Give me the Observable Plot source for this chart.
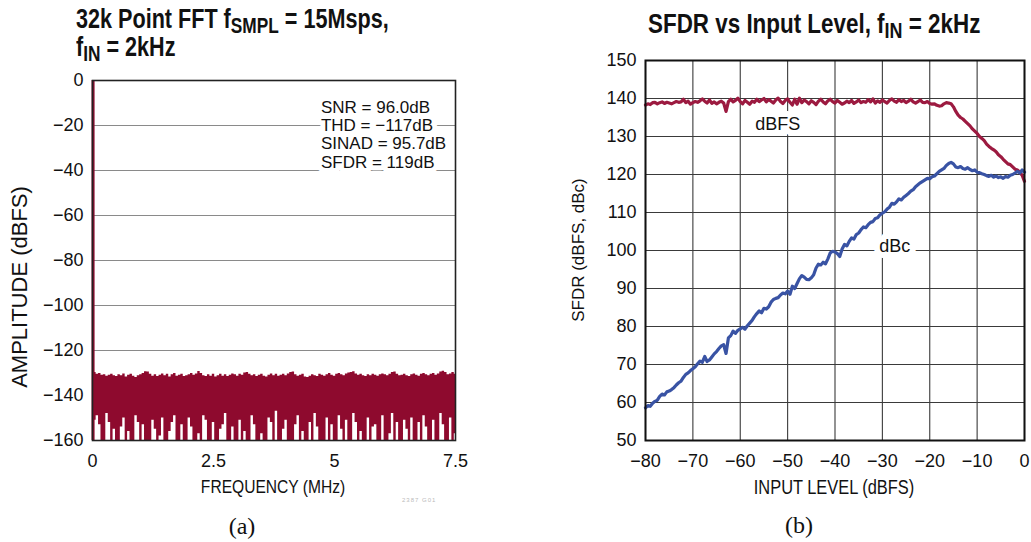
<!DOCTYPE html>
<html>
<head>
<meta charset="utf-8">
<script src="https://cdn.jsdelivr.net/npm/d3@7"></script>
<script src="https://cdn.jsdelivr.net/npm/@observablehq/plot@0.6"></script>
<style>
  html, body { margin: 0; padding: 0; background: #fff; }
  #wrap { position: relative; width: 1031px; height: 542px; overflow: hidden; font-family: "Liberation Sans", Arial, sans-serif; color: #111; }
  .abs { position: absolute; white-space: nowrap; }
  .title { font-family: "Liberation Sans", Arial, sans-serif; font-weight: bold; font-size: 27px; line-height: 28px; transform: scaleX(0.83); transform-origin: 0 0; }
  .title sub { font-size: 0.8em; vertical-align: -0.22em; line-height: 0; }
  .axt { font-family: "Liberation Sans", Arial, sans-serif; font-size: 19px; transform: translate(-50%, -50%) scaleX(0.82); }
  .axv { font-family: "Liberation Sans", Arial, sans-serif; transform: translate(-50%, -50%) rotate(-90deg); }
  .cap { font-family: "Liberation Serif", "DejaVu Serif", serif; font-size: 24px; transform: translate(-50%, -50%); }
  svg { overflow: visible; }
</style>
</head>
<body>
<div id="wrap">
  <div class="abs title" style="left:76px; top:5px; transform: scaleX(0.8);">32k Point FFT f<sub>SMPL</sub> = 15Msps,<br>f<sub>IN</sub> = 2kHz</div>
  <div class="abs title" style="left:648px; top:10px;">SFDR vs Input Level, f<sub>IN</sub> = 2kHz</div>
  <div id="pa" class="abs" style="left:0; top:0;"></div>
  <div id="pb" class="abs" style="left:520px; top:0;"></div>
  <div class="abs axt" style="left:273px; top:487px;">FREQUENCY (MHz)</div>
  <div class="abs axv" style="left:20px; top:287px; font-size:22px;">AMPLITUDE (dBFS)</div>
  <div class="abs axt" style="left:834px; top:487px; font-size:20px;">INPUT LEVEL (dBFS)</div>
  <div class="abs axv" style="left:579px; top:250px; font-size:17px;">SFDR (dBFS, dBc)</div>
  <div class="abs cap" style="left:242px; top:526px;">(a)</div>
  <div class="abs cap" style="left:799px; top:525px;">(b)</div>
  <div class="abs" style="left:402px; top:497px; font-size:6px; color:#bbb; letter-spacing:1px;">2387 G01</div>
</div>
<script>
// ---------- Panel (a): 32k point FFT ----------
const fftStep = 0.05; // MHz per plotted bin
const fftTop = [
  -129.0,-129.8,-130.6,-130.2,-131.0,-130.8,-131.4,-131.0,-130.6,-131.2,
  -131.6,-130.8,-131.2,-130.4,-131.8,-131.0,-130.6,-131.4,-132.0,-131.2,
  -130.8,-130.2,-129.4,-129.6,-130.6,-131.4,-130.8,-131.6,-131.0,-130.4,
  -131.2,-130.6,-131.8,-130.8,-130.2,-131.4,-131.0,-130.6,-131.6,-131.2,
  -130.8,-130.2,-131.0,-130.4,-129.3,-130.2,-131.2,-131.6,-130.8,-131.4,
  -130.6,-131.8,-131.2,-130.6,-131.4,-130.8,-131.6,-131.0,-130.4,-130.8,
  -131.4,-130.6,-131.0,-130.0,-129.8,-130.6,-131.2,-130.8,-131.6,-131.0,
  -130.6,-131.4,-131.8,-131.0,-130.4,-131.2,-130.6,-131.4,-131.0,-130.6,
  -131.2,-130.4,-129.8,-129.6,-130.8,-131.4,-131.0,-130.6,-131.8,-132.0,
  -131.4,-130.8,-131.2,-131.6,-130.6,-131.0,-131.4,-130.8,-130.2,-131.0,
  -131.4,-130.6,-130.2,-130.8,-131.2,-130.4,-130.0,-129.8,-129.4,-130.4,
  -131.0,-130.6,-131.2,-131.6,-130.8,-131.2,-130.6,-131.0,-131.4,-130.8,
  -130.4,-130.8,-131.2,-130.6,-129.8,-129.6,-130.6,-131.2,-131.0,-130.6,
  -131.2,-131.6,-130.8,-130.4,-131.0,-131.4,-130.6,-130.2,-130.8,-131.2,
  -130.6,-130.2,-131.0,-130.4,-129.6,-129.2,-129.8,-130.8,-130.4,-129.8,-130.6
];
const fftBottom = [
  -160,-151,-149,-153,-160,-160,-148,-152,-160,-155,
  -160,-160,-154,-150,-160,-156,-160,-160,-149,-152,
  -160,-153,-160,-160,-160,-151,-155,-160,-158,-150,
  -160,-160,-156,-152,-149,-160,-160,-153,-160,-160,
  -150,-154,-160,-160,-157,-160,-149,-151,-160,-160,
  -152,-160,-160,-155,-153,-148,-160,-160,-154,-160,
  -160,-151,-160,-156,-160,-160,-149,-153,-160,-160,
  -157,-160,-160,-150,-152,-160,-147,-160,-160,-155,
  -151,-160,-160,-160,-153,-149,-160,-156,-160,-160,
  -152,-160,-148,-154,-160,-160,-160,-150,-160,-153,
  -160,-160,-149,-155,-160,-151,-160,-160,-148,-152,
  -160,-156,-160,-160,-150,-160,-154,-153,-160,-160,
  -149,-160,-160,-157,-148,-160,-152,-160,-160,-151,
  -155,-160,-150,-160,-160,-152,-160,-149,-154,-160,
  -160,-151,-160,-160,-148,-153,-160,-160,-150,-160,-157
];
const spikeFreq = [0.012];
const spikeAmp = [0];
const fftXTicks = [0, 2.5, 5, 7.5];
const fftYTicks = [0, -20, -40, -60, -80, -100, -120, -140, -160];
const fftGrid = [-20, -40, -60, -80, -100, -120, -140];
const statLabels = ["SNR = 96.0dB", "THD = \u2212117dB", "SINAD = 95.7dB", "SFDR = 119dB"];
const statY = [-11.8, -19.8, -28.0, -36.6];

// ---------- Panel (b): SFDR vs input level ----------
const inputStep = 0.5;
const sfdrDBFS = [
  138.3,138.6,138.4,138.9,139.0,138.6,138.9,139.1,138.7,139.0,
  138.8,138.6,138.9,139.2,139.0,139.1,139.8,138.9,139.3,138.5,
  138.9,139.2,139.0,139.4,139.9,139.3,138.8,139.6,138.7,139.1,
  138.6,139.0,139.3,138.8,136.6,139.2,139.8,139.1,139.5,140.1,
  139.2,138.6,139.5,139.0,138.5,139.3,139.0,139.8,139.2,139.6,
  140.0,139.1,139.7,139.3,138.8,139.6,140.1,139.2,138.7,139.5,
  139.9,139.0,138.3,139.8,138.5,140.1,138.9,139.6,139.2,138.6,
  139.4,139.0,138.4,139.3,139.8,139.1,138.6,139.4,139.8,139.2,
  138.8,139.5,139.0,138.5,138.8,139.3,138.9,139.5,138.7,139.1,
  139.6,138.9,139.2,139.0,139.7,139.1,139.9,138.8,139.4,139.0,
  139.6,139.2,138.8,139.5,139.9,139.3,139.0,139.7,139.2,139.5,
  138.9,139.3,139.8,139.1,138.8,139.2,139.6,139.0,138.9,139.2,
  138.7,138.5,138.6,138.2,138.0,138.1,138.6,138.9,138.8,138.6,
  137.8,136.6,135.6,135.0,134.6,134.0,133.4,132.8,132.0,131.4,
  130.8,130.0,129.5,128.9,128.0,127.4,126.9,126.5,126.0,125.2,
  124.7,124.0,123.4,122.8,122.6,122.0,121.4,121.2,120.6,119.8,
  118.2
];
const sfdrDBc = [
  58.6,59.2,59.0,59.8,60.3,60.6,61.6,62.2,62.0,62.8,
  63.0,63.4,63.9,64.6,65.2,65.6,66.6,67.4,67.8,68.4,
  68.9,69.4,70.2,70.9,70.6,72.1,70.8,71.2,72.0,72.8,
  73.4,74.2,74.9,75.2,72.9,77.0,77.6,78.8,78.2,79.0,
  79.4,79.8,79.3,80.2,80.9,81.6,82.6,83.4,84.1,83.6,
  84.8,84.6,85.2,86.4,87.1,87.4,87.6,88.3,88.8,88.6,
  89.3,88.5,90.6,90.0,91.3,92.6,93.4,93.0,92.4,92.3,
  92.8,93.6,95.4,96.4,96.2,96.9,96.5,97.8,99.4,99.8,
  99.6,99.2,98.4,100.4,101.6,101.2,102.4,103.3,103.0,104.2,
  104.6,105.5,106.2,106.0,106.8,107.4,107.6,108.4,108.6,109.4,
  109.8,110.2,110.9,111.4,112.4,112.2,112.8,113.6,113.3,114.0,
  114.5,115.0,115.6,116.0,116.8,117.3,117.8,118.2,118.6,119.0,
  118.9,119.4,119.6,120.2,120.8,121.2,121.6,122.4,122.9,123.2,
  122.8,122.0,121.8,122.1,121.6,121.4,121.8,121.3,121.0,121.2,
  120.6,120.5,120.2,120.0,119.7,119.5,119.8,119.3,119.6,119.2,
  119.4,119.0,119.5,119.3,119.8,120.0,120.4,120.8,120.4,121.2,
  120.6
];
const sfdrXTicks = [-80, -70, -60, -50, -40, -30, -20, -10, 0];
const sfdrYTicks = [50, 60, 70, 80, 90, 100, 110, 120, 130, 140, 150];
const curveNames = ["dBFS", "dBc"];
const curveLabelX = [-52.1, -27.4];
const curveLabelY = [133.3, 101.0];

const RED = "#8e0a2e";
const LINE_RED = "#9c1a40";
const BLUE = "#3953a4";

// ----- build tables -----
const fft = fftTop.map((hi, i) => ({f: i * fftStep, hi, lo: fftBottom[i]}));
const spike = spikeFreq.map((f, i) => ({f, a: spikeAmp[i]}));
const stats = statLabels.map((t, i) => ({t, y: statY[i]}));
const lvl = sfdrDBFS.map((v, i) => ({x: -80 + i * inputStep, dbfs: v, dbc: sfdrDBc[i]}));
const curveLabels = curveNames.map((n, i) => ({n, x: curveLabelX[i], y: curveLabelY[i]}));
const fmt = d => (d < 0 ? "\u2212" : "") + String(Math.abs(d));

const chartA = Plot.plot({
  width: 480, height: 542,
  marginTop: 80, marginBottom: 102, marginLeft: 92, marginRight: 25,
  style: {fontFamily: "'Liberation Sans', Arial, sans-serif", fontSize: "18px", color: "#111", background: "transparent", overflow: "visible"},
  x: {domain: [0, 7.5]},
  y: {domain: [-160, 0]},
  marks: [
    Plot.ruleY(fftGrid, {stroke: "#8a8a8a", strokeWidth: 1.2}),
    Plot.areaY(fft, {x: "f", y1: "lo", y2: "hi", curve: "step", fill: RED}),
    Plot.ruleX(spike, {x: "f", y1: -160, y2: "a", stroke: RED, strokeWidth: 3}),
    Plot.text(stats, {x: 4.72, y: "y", text: "t", textAnchor: "start", fontSize: 17, fill: "#111", stroke: "white", strokeWidth: 10, paintOrder: "stroke"}),
    Plot.frame({stroke: "#222", strokeWidth: 1.6}),
    Plot.axisX({ticks: fftXTicks, tickFormat: fmt, tickSize: 0, tickPadding: 14, label: null, fontSize: 18}),
    Plot.axisY({ticks: fftYTicks, tickFormat: fmt, tickSize: 0, tickPadding: 9, label: null, fontSize: 18})
  ]
});
document.getElementById("pa").appendChild(chartA);

const chartB = Plot.plot({
  width: 511, height: 542,
  marginTop: 60, marginBottom: 102, marginLeft: 125, marginRight: 7,
  style: {fontFamily: "'Liberation Sans', Arial, sans-serif", fontSize: "18px", color: "#111", background: "transparent", overflow: "visible"},
  x: {domain: [-80, 0]},
  y: {domain: [50, 150]},
  marks: [
    Plot.ruleX(sfdrXTicks, {stroke: "#3a3a3a", strokeWidth: 1.1}),
    Plot.ruleY(sfdrYTicks, {stroke: "#3a3a3a", strokeWidth: 1.1}),
    Plot.text(curveLabels, {x: "x", y: "y", text: "n", fontSize: 18, fill: "#111", stroke: "white", strokeWidth: 12, paintOrder: "stroke"}),
    Plot.line(lvl, {x: "x", y: "dbfs", stroke: LINE_RED, strokeWidth: 3.2, curve: "linear"}),
    Plot.line(lvl, {x: "x", y: "dbc", stroke: BLUE, strokeWidth: 3.2, curve: "linear"}),
    Plot.frame({stroke: "#111", strokeWidth: 2}),
    Plot.axisX({ticks: sfdrXTicks, tickFormat: fmt, tickSize: 0, tickPadding: 14, label: null, fontSize: 18}),
    Plot.axisY({ticks: sfdrYTicks, tickFormat: fmt, tickSize: 0, tickPadding: 9, label: null, fontSize: 18})
  ]
});
document.getElementById("pb").appendChild(chartB);
</script>
</body>
</html>
